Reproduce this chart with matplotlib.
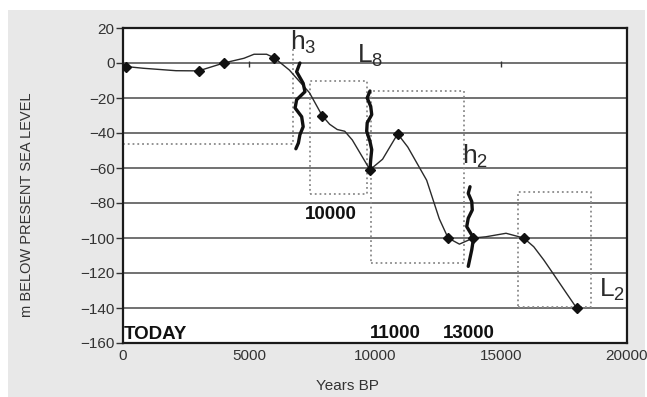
import numpy as np
import matplotlib
matplotlib.use("Agg")
import matplotlib.pyplot as plt
from matplotlib.patches import Rectangle

plt.rcParams['font.family'] = ['Liberation Sans', 'DejaVu Sans']
plt.rcParams['mathtext.fontset'] = 'custom'
plt.rcParams['mathtext.rm'] = 'Liberation Sans'
plt.rcParams['mathtext.it'] = 'Liberation Sans'

# dated sea-level points (years BP, metres)
point_years = [100, 3000, 4000, 6000, 7900, 9800, 10900, 12900, 13900, 15900, 18000]
point_depth = [-2, -4.5, 0, 3, -30, -61, -40.5, -100, -100, -100, -140]

# traced curve through the points
curve_years = [100, 800, 2100, 3000, 4000, 4800, 5200, 5700, 6000, 6600, 7400, 7900,
               8200, 8500, 8800, 9100, 9800, 10300, 10900, 11300, 12050, 12550, 12900,
               13350, 13900, 14400, 15200, 15900, 16300, 16700, 17100, 17600, 18000]
curve_depth = [-2, -3, -4.4, -4.5, 0, 2.7, 5, 5, 3, -4, -17, -30,
               -35, -38, -39, -44, -61, -55, -40.5, -48, -67, -89, -100,
               -103.5, -100, -99.3, -97.3, -100, -105, -112.6, -121, -131.6, -140]

# dotted boxes: (x0, x1, y0, y1)
boxes = [(7420, 9680, -75, -10), (9840, 13530, -114, -16), (15670, 18560, -139.4, -73.5)]

# wavy braces (years, metres)
brace_h3_x = [7020, 6890, 7150, 7220, 6890, 6830, 7090, 7150, 7020, 6960, 6860]
brace_h3_y = [0, -5, -11.6, -16.4, -21, -25.7, -30.7, -36.4, -41, -45.7, -49]
brace_l8_x = [9800, 9690, 9830, 9870, 9690, 9670, 9800, 9870, 9830, 9800]
brace_l8_y = [-16, -20, -24.8, -29.5, -34.2, -39, -44.8, -49.5, -55.2, -61]
brace_h2_x = [13770, 13700, 13840, 13860, 13700, 13640, 13840, 13900, 13840, 13700]
brace_h2_y = [-70.7, -74.5, -79.2, -84, -88.7, -93.5, -98.3, -101, -106.7, -116.2]

fig = plt.figure(figsize=(6.47, 3.97), dpi=100, facecolor='white')
fig.patches.append(Rectangle((8 / 647, 0), 637 / 647, 387 / 397, transform=fig.transFigure,
                             facecolor='#e8e8e8', edgecolor='none', zorder=-10))
ax = fig.add_axes([123 / 647, 1 - 343 / 397, 504 / 647, 315 / 397])
ax.set_facecolor('white')

ax.set_xlim(0, 20000)
ax.set_ylim(-160, 20)
ax.set_xticks([0, 5000, 10000, 15000, 20000])
ax.set_yticks(np.arange(-160, 21, 20))
ax.tick_params(axis='y', length=5, width=1, color='#333333', labelsize=11, labelcolor='#333333', pad=1)
ax.tick_params(axis='x', length=0, labelsize=11, labelcolor='#333333', pad=4)
for s in ax.spines.values():
    s.set_linewidth(1.6)
    s.set_color('#1a1a1a')

for y in range(-140, 1, 20):
    ax.axhline(y, color='#666666', lw=1.3, zorder=1)
ax.vlines([5000, 15000], -2.5, 1, color='#333333', lw=1, zorder=2)

# boxes
ax.plot([0, 6750, 6750], [-46, -46, 9], color='#8a8a8a', ls=':', lw=1.3, zorder=2)
for x0, x1, y0, y1 in boxes:
    ax.plot([x0, x1, x1, x0, x0], [y0, y0, y1, y1, y0], color='#8a8a8a', ls=':', lw=1.3, zorder=2)

ax.plot(curve_years, curve_depth, color='#2a2a2a', lw=1, zorder=3)
ax.plot(point_years, point_depth, ls='none', marker='D', ms=5, color='#111111', zorder=4)

for bx, by in [(brace_h3_x, brace_h3_y), (brace_l8_x, brace_l8_y), (brace_h2_x, brace_h2_y)]:
    ax.plot(bx, by, color='#111111', lw=2.4, solid_capstyle='round', solid_joinstyle='round', zorder=5)

lab = dict(fontsize=19, color='#2b2b2b', ha='left', va='baseline', zorder=6)
ax.text(6630, 7.4, r'$\mathrm{h}_3$', **lab)
ax.text(9290, 0, r'$\mathrm{L}_8$', **lab)
ax.text(13450, -57.7, r'$\mathrm{h}_2$', **lab)
ax.text(18890, -133.7, r'$\mathrm{L}_2$', **lab)

bold = dict(fontsize=13.5, fontweight='bold', color='#111111', ha='left', va='baseline', zorder=6)
ax.text(7220, -89, '10000', **bold)
ax.text(40, -157.7, 'TODAY', **bold)
ax.text(9800, -157.3, '11000', **bold)
ax.text(12710, -157.3, '13000', **bold)

ax.set_ylabel('m BELOW PRESENT SEA LEVEL', fontsize=10.5, color='#333333')
ax.yaxis.set_label_coords(-0.176, 0.44)
ax.set_xlabel('Years BP', fontsize=11, color='#333333')
ax.xaxis.set_label_coords(0.446, -0.115)

fig.savefig('out.png', dpi=100, facecolor='white')
